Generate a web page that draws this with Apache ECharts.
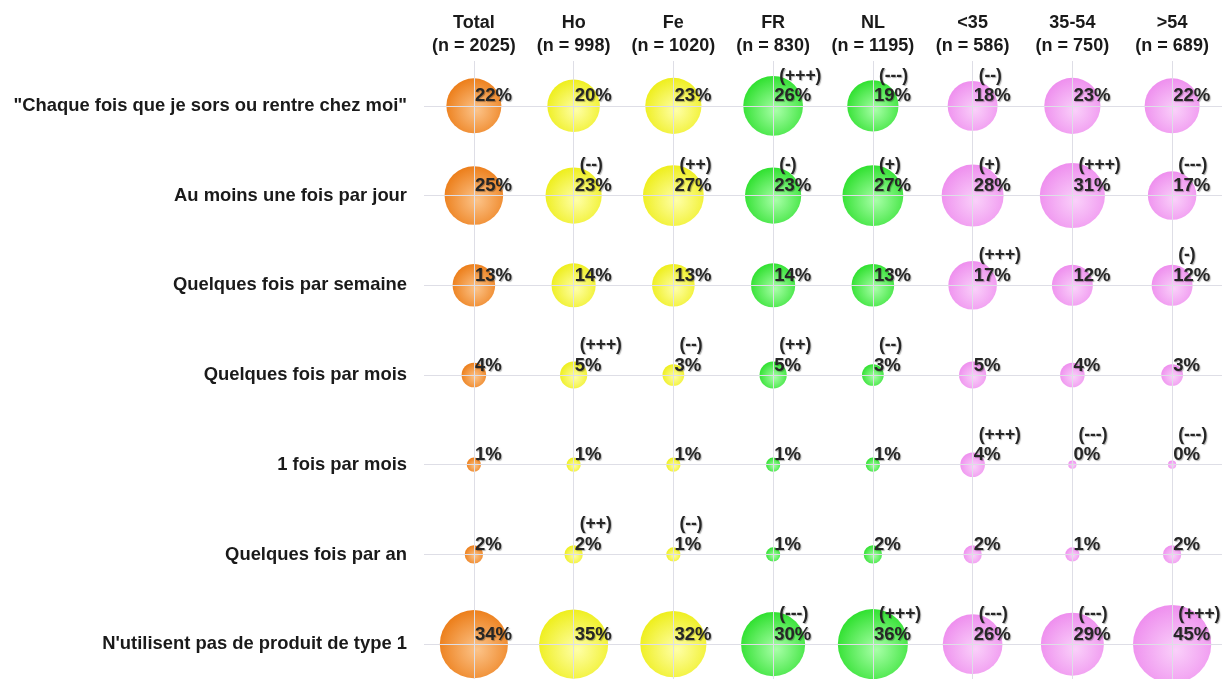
<!DOCTYPE html>
<html>
<head>
<meta charset="utf-8">
<script src="https://cdn.jsdelivr.net/npm/echarts@6/dist/echarts.min.js"></script>
<style>
  html, body { margin: 0; padding: 0; background: #fff; }
  #chart { width: 1222px; height: 679px; }
</style>
</head>
<body>
<div id="chart"></div>
<script>
// Column groups (with sample sizes) and answer rows
const groups = ['Total', 'Ho', 'Fe', 'FR', 'NL', '<35', '35-54', '>54'];
const sampleSizes = [2025, 998, 1020, 830, 1195, 586, 750, 689];
const answers = [
  '"Chaque fois que je sors ou rentre chez moi"',
  'Au moins une fois par jour',
  'Quelques fois par semaine',
  'Quelques fois par mois',
  '1 fois par mois',
  'Quelques fois par an',
  "N'utilisent pas de produit de type 1"
];

// Percentages per answer row, one value per group
const rowChaque   = [22, 20, 23, 26, 19, 18, 23, 22];
const rowJour     = [25, 23, 27, 23, 27, 28, 31, 17];
const rowSemaine  = [13, 14, 13, 14, 13, 17, 12, 12];
const rowMois     = [4, 5, 3, 5, 3, 5, 4, 3];
const rowUneFois  = [1, 1, 1, 1, 1, 4, 0, 0];
const rowAn       = [2, 2, 1, 1, 2, 2, 1, 2];
const rowAucun    = [34, 35, 32, 30, 36, 26, 29, 45];

// Significance markers per answer row
const sigChaque   = ['', '', '', '(+++)', '(---)', '(--)', '', ''];
const sigJour     = ['', '(--)', '(++)', '(-)', '(+)', '(+)', '(+++)', '(---)'];
const sigSemaine  = ['', '', '', '', '', '(+++)', '', '(-)'];
const sigMois     = ['', '(+++)', '(--)', '(++)', '(--)', '', '', ''];
const sigUneFois  = ['', '', '', '', '', '(+++)', '(---)', '(---)'];
const sigAn       = ['', '(++)', '(--)', '', '', '', '', ''];
const sigAucun    = ['', '', '', '(---)', '(+++)', '(---)', '(---)', '(+++)'];

const values = [rowChaque, rowJour, rowSemaine, rowMois, rowUneFois, rowAn, rowAucun];
const sigs = [sigChaque, sigJour, sigSemaine, sigMois, sigUneFois, sigAn, sigAucun];

// Bubble shading per group: [edge, highlight]
const palette = {
  orange: ['#ec7d18', '#fcc48a'],
  yellow: ['#eeee1a', '#ffffa8'],
  green:  ['#2ee02e', '#a8ffa8'],
  pink:   ['#ee8eee', '#fad0fa']
};
const groupShade = ['orange', 'yellow', 'yellow', 'green', 'green', 'pink', 'pink', 'pink'];

function bubbleFill(name) {
  const c = palette[name];
  return {
    type: 'radial', x: 0.55, y: 0.58, r: 0.6,
    colorStops: [{ offset: 0, color: c[1] }, { offset: 1, color: c[0] }]
  };
}

const headerLabels = groups.map((g, i) => g + '\n(n = ' + sampleSizes[i] + ')');

const bubbles = [];
values.forEach((row, r) => {
  row.forEach((v, c) => {
    bubbles.push({
      value: [headerLabels[c], answers[r], v, sigs[r][c]],
      itemStyle: { color: bubbleFill(groupShade[c]) }
    });
  });
});

const chart = echarts.init(document.getElementById('chart'), null, { renderer: 'canvas' });

const font = "'Liberation Sans', Arial, sans-serif";
const shadow = {
  textShadowColor: 'rgba(0,0,0,0.3)', textShadowBlur: 1,
  textShadowOffsetX: 1, textShadowOffsetY: 1
};

chart.setOption({
  animation: false,
  backgroundColor: '#ffffff',
  grid: {
    left: 424, width: 798, top: 61, height: 628,
    containLabel: false, outerBoundsMode: 'none'
  },
  xAxis: {
    type: 'category',
    position: 'top',
    data: headerLabels,
    boundaryGap: true,
    axisLine: { show: false },
    axisTick: { show: false },
    splitLine: { show: false },
    axisLabel: {
      interval: 0,
      margin: 3,
      color: '#1a1a1a',
      fontFamily: font,
      fontWeight: 'bold',
      fontSize: 18,
      lineHeight: 23
    }
  },
  yAxis: {
    type: 'category',
    inverse: true,
    data: answers,
    boundaryGap: true,
    axisLine: { show: false },
    axisTick: { show: false },
    splitLine: { show: false },
    axisLabel: {
      interval: 0,
      margin: 17,
      color: '#1a1a1a',
      fontFamily: font,
      fontWeight: 'bold',
      fontSize: 18.4
    }
  },
  series: [
    {
      // light guide lines through every bubble centre
      type: 'scatter',
      data: [],
      z: 1,
      silent: true,
      markLine: {
        silent: true,
        symbol: 'none',
        label: { show: false },
        lineStyle: { color: '#dedee6', width: 1, type: 'solid' },
        data: headerLabels.map(h => ({ xAxis: h }))
          .concat(answers.map(a => ({ yAxis: a })))
      }
    },
    {
      type: 'scatter',
      z: 2,
      data: bubbles,
      symbol: 'circle',
      symbolSize: d => 11.6 * Math.sqrt(d[2] + 0.5),
      itemStyle: { opacity: 1 },
      label: {
        show: true,
        position: 'inside',
        align: 'left',
        verticalAlign: 'bottom',
        offset: [1, 1],
        formatter: p => {
          const sig = p.value[3];
          const val = '{v|' + p.value[2] + '%}';
          return sig ? '{s|' + sig + '}\n' + val : val;
        },
        rich: {
          v: Object.assign({
            fontFamily: font, fontWeight: 'bold', fontSize: 18.5, lineHeight: 21,
            color: '#262626'
          }, shadow),
          s: Object.assign({
            fontFamily: font, fontWeight: 'bold', fontSize: 17.5, lineHeight: 20,
            color: '#262626', padding: [0, 0, 0, 5]
          }, shadow)
        }
      }
    }
  ]
});
</script>
</body>
</html>
